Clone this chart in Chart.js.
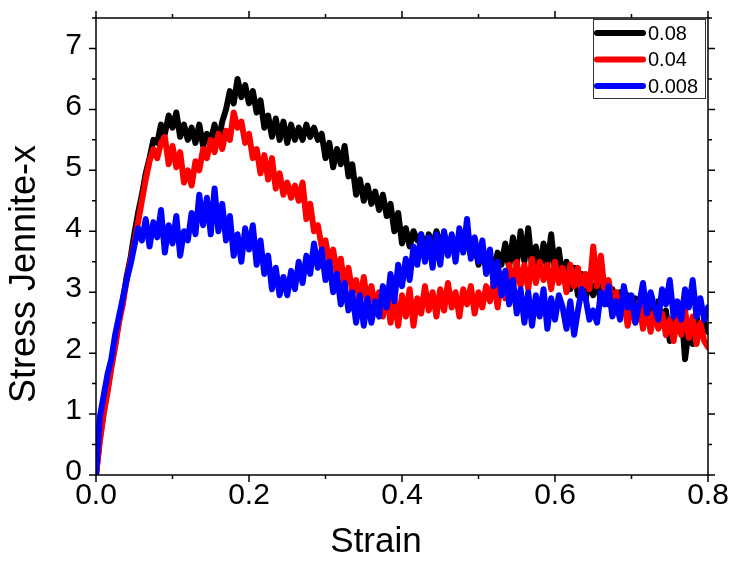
<!DOCTYPE html>
<html>
<head>
<meta charset="utf-8">
<script src="https://cdn.jsdelivr.net/npm/chart.js@4/dist/chart.umd.min.js"></script>
<style>
  html, body { margin: 0; padding: 0; background: #fff; }
  #grafico { display: block; }
</style>
</head>
<body>
<canvas id="grafico" width="732" height="564"></canvas>
<script>
// paso de deformacion entre muestras (0.000 ... 0.800)
const pasoStrain = 0.005;

const etiquetas = ["0.08", "0.04", "0.008"];
const colores = ["#000000", "#ff0000", "#0000ff"];

const tickX = [0, 0.2, 0.4, 0.6, 0.8];
const tickY = [0, 1, 2, 3, 4, 5, 6, 7];

const stress008 = [
  0.0, 0.95, 1.3, 1.65, 1.9, 2.3, 2.6, 2.9, 3.2, 3.45,
  3.75, 4.05, 3.85, 4.2, 3.75, 4.15, 3.9, 4.35, 3.65, 4.1,
  3.8, 4.25, 3.6, 4.0, 3.85, 4.3, 3.95, 4.6, 4.1, 4.55,
  3.95, 4.7, 4.0, 4.45, 3.85, 4.25, 3.6, 3.95, 3.5, 4.05,
  3.7, 4.1, 3.45, 3.85, 3.3, 3.6, 3.05, 3.4, 2.95, 3.25,
  2.95, 3.35, 3.05, 3.5, 3.15, 3.6, 3.3, 3.8, 3.4, 3.7,
  3.2, 3.5, 3.0, 3.3, 2.8, 3.15, 2.7, 3.0, 2.5, 2.95,
  2.45, 2.9, 2.5, 2.85, 2.6, 3.1, 2.75, 3.3, 2.85, 3.45,
  3.1, 3.55, 3.2, 3.75, 3.45, 3.95, 3.5, 3.9, 3.4, 3.95,
  3.45, 4.0, 3.6, 3.95, 3.5, 4.05, 3.65, 4.2, 3.55, 3.9,
  3.5, 3.85, 3.3, 3.7, 3.1, 3.5, 2.95, 3.35, 2.8, 3.2,
  2.65, 3.05, 2.5, 3.0, 2.45, 2.95, 2.6, 3.05, 2.4, 2.9,
  2.55, 2.95, 2.75, 2.4, 2.85, 2.3, 2.7, 3.05, 2.9, 2.55,
  2.7, 2.5, 3.0, 2.8, 3.1, 2.6, 2.85, 2.55, 3.1, 2.75,
  2.95, 2.5, 2.8, 3.15, 2.65, 3.0, 2.75, 2.55, 3.05, 2.8,
  3.2, 2.6, 2.85, 2.55, 3.05, 2.75, 3.2, 2.6, 2.9, 2.55,
  2.75
];

const stress04 = [
  0.0, 0.55, 1.0, 1.35, 1.75, 2.1, 2.5, 2.8, 3.2, 3.5,
  3.8, 4.15, 4.5, 4.85, 5.15, 5.35, 5.2, 5.45, 5.55, 5.1,
  5.4, 5.05, 5.3, 4.8, 5.0, 4.75, 5.15, 5.0, 5.35, 5.2,
  5.5, 5.3, 5.6, 5.35, 5.65, 5.5, 5.95, 5.7, 5.8, 5.45,
  5.6, 5.2, 5.35, 4.95, 5.25, 4.85, 5.2, 4.7, 4.95, 4.6,
  4.8, 4.55, 4.75, 4.5, 4.8, 4.2, 4.45, 4.0, 4.1, 3.75,
  3.85, 3.5, 3.7, 3.3, 3.55, 3.1, 3.4, 3.0, 3.2, 2.85,
  3.25, 2.8, 3.1, 2.75, 3.0, 2.6, 3.05, 2.5, 2.9, 2.45,
  2.95, 2.6, 3.05, 2.45, 2.9, 2.65, 3.1, 2.7, 3.0, 2.6,
  3.05, 2.7, 3.15, 2.75, 3.0, 2.6, 3.05, 2.8, 3.1, 2.65,
  3.0, 2.75, 3.1, 2.85, 3.2, 2.75, 3.3, 2.9, 3.45, 3.05,
  3.5, 3.1, 3.45, 3.05, 3.55, 3.15, 3.5, 3.2, 3.45, 3.05,
  3.5, 3.15, 3.4, 3.0, 3.45, 3.1, 3.4, 3.0, 3.3, 3.05,
  3.75, 3.1, 3.6, 3.0, 3.2, 2.8, 3.0, 2.6, 2.85, 2.45,
  2.8, 2.5, 2.85, 2.4, 2.75, 2.35, 2.7, 2.4, 2.65, 2.3,
  2.55, 2.2, 2.6, 2.3, 2.7, 2.25, 2.6, 2.15, 2.5, 2.2,
  2.1
];

const stress08 = [
  0.0, 0.6, 1.05, 1.4, 1.8, 2.15, 2.55, 2.85, 3.25, 3.55,
  3.95, 4.3, 4.6, 4.95, 5.2, 5.5, 5.45, 5.75, 5.6, 5.9,
  5.7, 5.95, 5.55, 5.75, 5.5, 5.7, 5.45, 5.75, 5.4, 5.6,
  5.5, 5.75, 5.45, 5.8, 6.0, 6.3, 6.1, 6.5, 6.2, 6.4,
  6.1, 6.3, 5.95, 6.15, 5.7, 5.9, 5.55, 5.85, 5.5, 5.8,
  5.45, 5.75, 5.5, 5.7, 5.5, 5.75, 5.55, 5.7, 5.5, 5.6,
  5.2, 5.45, 5.05, 5.35, 5.1, 5.4, 4.9, 5.1, 4.6, 4.85,
  4.5, 4.75, 4.45, 4.65, 4.35, 4.6, 4.25, 4.45, 4.0, 4.3,
  3.8, 4.05, 3.75, 4.0, 3.85, 3.95, 3.7, 3.95, 3.75, 4.0,
  3.8, 3.95, 3.7, 3.9, 3.75, 3.95, 3.7, 3.85, 3.6, 3.8,
  3.45, 3.7, 3.4, 3.6, 3.35, 3.65, 3.45, 3.8, 3.4, 3.9,
  3.45, 4.0, 3.5, 4.05, 3.4, 3.75, 3.35, 3.8, 3.45, 3.95,
  3.35, 3.7, 3.2, 3.5, 3.05, 3.4, 2.95, 3.3, 2.9, 3.15,
  2.95, 3.2, 2.85, 3.1, 2.8, 3.05, 2.75, 3.0, 2.7, 2.95,
  2.65, 2.9, 2.6, 2.85, 2.55, 2.8, 2.6, 2.85, 2.45, 2.7,
  2.2, 2.6, 2.4, 2.75, 1.9, 2.4, 2.15, 2.6, 2.3, 2.5,
  2.35
];

const fuente = "'Liberation Sans', Arial, sans-serif";

const aPuntos = (serie) => serie.map((v, i) => ({ x: i * pasoStrain, y: v }));

/******************************************************************
 * Marco, ticks (mayores y menores), titulos de ejes y leyenda
 ******************************************************************/
const marcoEjes = {
  id: "marcoEjes",
  afterDraw(chart) {
    const ctx = chart.ctx;
    const a = chart.chartArea;
    const sx = chart.scales.x;
    const sy = chart.scales.y;
    ctx.save();
    ctx.strokeStyle = "#000";
    ctx.lineWidth = 1.5;
    ctx.strokeRect(a.left, a.top, a.right - a.left, a.bottom - a.top);

    ctx.beginPath();
    for (let i = 0; i <= 8; i++) {
      const px = sx.getPixelForValue(i / 10);
      const largo = i % 2 === 0 ? 7 : 4;
      ctx.moveTo(px, a.bottom);
      ctx.lineTo(px, a.bottom + largo);
      ctx.moveTo(px, a.top);
      ctx.lineTo(px, a.top - largo);
    }
    for (let i = 0; i <= 15; i++) {
      const py = sy.getPixelForValue(i / 2);
      const largo = i % 2 === 0 ? 7 : 4;
      ctx.moveTo(a.left, py);
      ctx.lineTo(a.left - largo, py);
      ctx.moveTo(a.right, py);
      ctx.lineTo(a.right + largo, py);
    }
    ctx.stroke();

    // titulos
    ctx.fillStyle = "#000";
    ctx.textAlign = "center";
    ctx.textBaseline = "middle";
    ctx.font = `35px ${fuente}`;
    ctx.fillText("Strain", 376, 542);
    ctx.save();
    ctx.translate(25, 274);
    ctx.rotate(-Math.PI / 2);
    ctx.font = `36px ${fuente}`;
    ctx.fillText("Stress Jennite-x", 0, 0);
    ctx.restore();

    // leyenda
    ctx.lineWidth = 1;
    ctx.strokeStyle = "#333";
    ctx.strokeRect(593.5, 19.5, 112, 79);
    ctx.font = `20px ${fuente}`;
    ctx.textAlign = "left";
    chart.data.datasets.forEach((ds, i) => {
      const y = 33 + i * 26.5;
      ctx.strokeStyle = ds.borderColor;
      ctx.lineWidth = 6;
      ctx.lineCap = "round";
      ctx.beginPath();
      ctx.moveTo(597, y);
      ctx.lineTo(643, y);
      ctx.stroke();
      ctx.fillStyle = "#000";
      ctx.fillText(ds.label, 648, y + 1);
    });
    ctx.restore();
  },
};

const datos = {
  datasets: [
    { label: etiquetas[0], data: aPuntos(stress08), borderColor: colores[0], order: 2 },
    { label: etiquetas[1], data: aPuntos(stress04), borderColor: colores[1], order: 1 },
    { label: etiquetas[2], data: aPuntos(stress008), borderColor: colores[2], order: 0 },
  ],
};

new Chart(document.getElementById("grafico"), {
  type: "line",
  data: datos,
  options: {
    responsive: false,
    animation: false,
    events: [],
    layout: { padding: { top: 18, right: 24, left: 0, bottom: 0 } },
    elements: {
      point: { radius: 0 },
      line: { borderWidth: 6, tension: 0, borderCapStyle: "round", borderJoinStyle: "round" },
    },
    plugins: {
      legend: { display: false },
      tooltip: { enabled: false },
    },
    scales: {
      x: {
        type: "linear",
        min: 0,
        max: 0.8,
        afterFit: (s) => {
          s.height = 89;
          s.paddingLeft = 0;
          s.paddingRight = 0;
        },
        afterBuildTicks: (s) => { s.ticks = tickX.map((v) => ({ value: v })); },
        grid: { display: true, drawOnChartArea: false, drawTicks: false },
        border: { display: false },
        ticks: {
          color: "#000",
          padding: 3,
          maxRotation: 0,
          autoSkip: false,
          font: { size: 30, family: fuente },
          callback: (v) => Number(v).toFixed(1),
        },
      },
      y: {
        min: 0,
        max: 7.5,
        afterFit: (s) => {
          s.width = 96;
          s.paddingTop = 0;
          s.paddingBottom = 0;
        },
        afterBuildTicks: (s) => { s.ticks = tickY.map((v) => ({ value: v })); },
        grid: { display: true, drawOnChartArea: false, drawTicks: false },
        border: { display: false },
        ticks: {
          color: "#000",
          padding: 14,
          labelOffset: -3,
          font: { size: 30, family: fuente },
        },
      },
    },
  },
  plugins: [marcoEjes],
});
</script>
</body>
</html>
